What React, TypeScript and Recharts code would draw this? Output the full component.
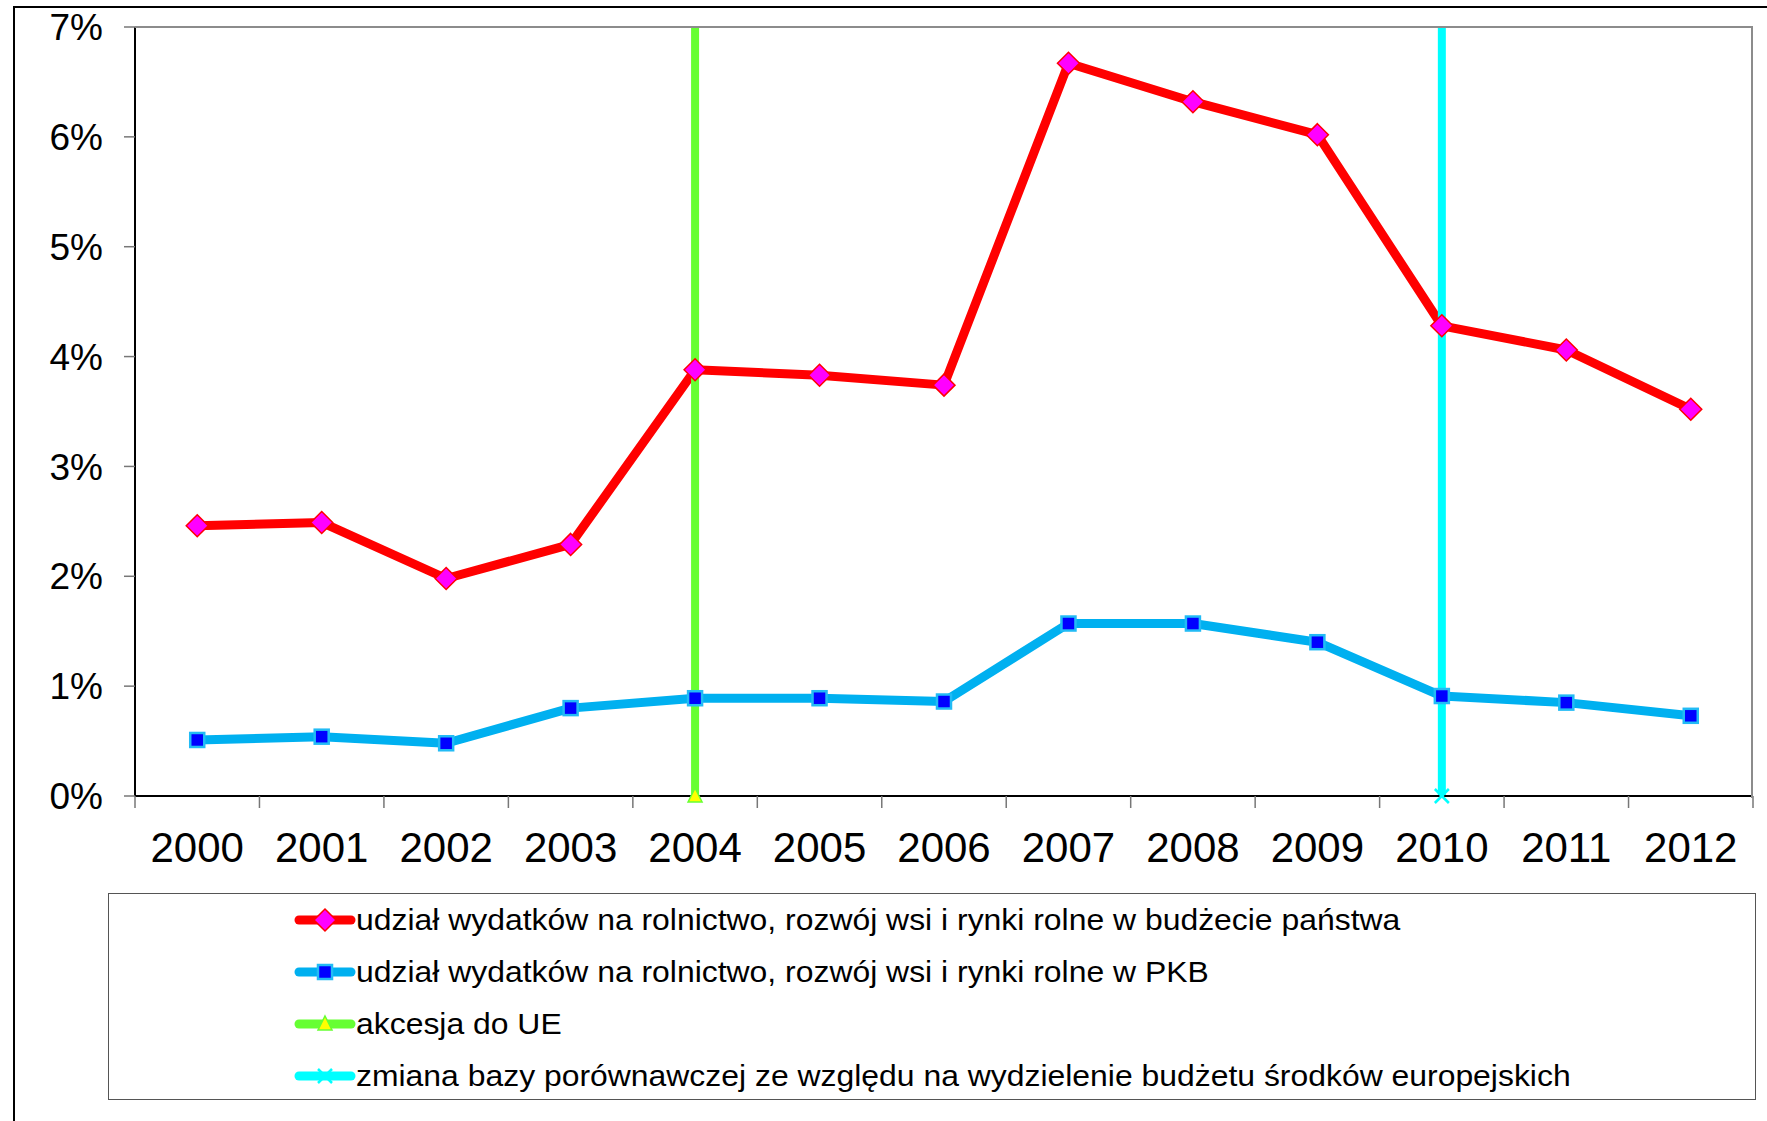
import React from "react";
import { LineChart, Line, XAxis, YAxis } from "recharts";

// years on the category axis
const years = ["2000", "2001", "2002", "2003", "2004", "2005", "2006", "2007", "2008", "2009", "2010", "2011", "2012"];
// share of agriculture spending in the state budget, %
const budgetShare = [2.46, 2.49, 1.98, 2.29, 3.88, 3.83, 3.74, 6.67, 6.32, 6.02, 4.28, 4.06, 3.52];
// share of agriculture spending in GDP, %
const gdpShare = [0.51, 0.54, 0.48, 0.8, 0.89, 0.89, 0.86, 1.57, 1.57, 1.4, 0.91, 0.85, 0.73];
const yTicks = [0, 1, 2, 3, 4, 5, 6, 7];
const accessionYear = "2004";
const baseChangeYear = "2010";
const markerSpan = [0, 7];

const legendLabels = [
  "udział wydatków na rolnictwo, rozwój wsi i rynki rolne w budżecie państwa",
  "udział wydatków na rolnictwo, rozwój wsi i rynki rolne w PKB",
  "akcesja do UE",
  "zmiana bazy porównawczej ze względu na wydzielenie budżetu środków europejskich",
];

const RED = "#FF0000";
const BLUE = "#00B0F0";
const GREEN = "#66FF33";
const CYAN = "#00FFFF";

const seriesData = years.map((year, i) => ({
  pos: i + 0.5,
  year,
  budget: budgetShare[i],
  gdp: gdpShare[i],
}));

const verticalMarker = (year: string) =>
  markerSpan.map((value) => ({ pos: years.indexOf(year) + 0.5, value }));

const accessionData = verticalMarker(accessionYear);
const baseChangeData = verticalMarker(baseChangeYear);
const boundaryTicks = [...years.map((_, i) => i), years.length];

function Diamond({ cx, cy, r = 11 }: any) {
  return (
    <polygon
      points={`${cx},${cy - r} ${cx + r},${cy} ${cx},${cy + r} ${cx - r},${cy}`}
      fill="#FF00FF"
      stroke={RED}
      strokeWidth={1.5}
    />
  );
}

function Square({ cx, cy, s = 7 }: any) {
  return (
    <rect x={cx - s} y={cy - s} width={s * 2} height={s * 2} fill="#0000FF" stroke="#22BBF5" strokeWidth={2.5} />
  );
}

function Triangle({ cx, cy }: any) {
  return (
    <polygon
      points={`${cx},${cy - 8} ${cx + 7},${cy + 6} ${cx - 7},${cy + 6}`}
      fill="#FFFF00"
      stroke={GREEN}
      strokeWidth={1.5}
    />
  );
}

function Cross({ cx, cy }: any) {
  return (
    <g stroke={CYAN} strokeWidth={2.5}>
      <line x1={cx - 7} y1={cy - 7} x2={cx + 7} y2={cy + 7} />
      <line x1={cx - 7} y1={cy + 7} x2={cx + 7} y2={cy - 7} />
    </g>
  );
}

const bottomOnly = (Marker: any) => (props: any) =>
  props.payload && props.payload.value === 0 ? (
    <Marker key={`m-${props.index}`} cx={props.cx} cy={props.cy} />
  ) : (
    <g key={`m-${props.index}`} />
  );

const legendMarkers = [
  { color: RED, Marker: Diamond },
  { color: BLUE, Marker: Square },
  { color: GREEN, Marker: Triangle },
  { color: CYAN, Marker: Cross },
];

export default function App() {
  return (
    <div
      style={{
        position: "absolute",
        left: 0,
        top: 0,
        width: 1767,
        height: 1121,
        overflow: "hidden",
        background: "#fff",
        fontFamily: "'Liberation Sans', Arial, sans-serif",
      }}
    >
      <div style={{ position: "absolute", left: 0, top: 0 }}>
        <LineChart
          width={1767}
          height={876}
          margin={{ top: 27, right: 14, left: 0, bottom: 0 }}
          style={{ fontFamily: "'Liberation Sans', Arial, sans-serif" }}
        >
          {/* category boundaries: tick marks only */}
          <XAxis
            xAxisId="bounds"
            type="number"
            dataKey="pos"
            domain={[0, years.length]}
            allowDataOverflow
            ticks={boundaryTicks}
            interval={0}
            tick={() => <g />}
            tickSize={12}
            tickLine={{ stroke: "#777", strokeWidth: 1.5 }}
            axisLine={{ stroke: "#000", strokeWidth: 2 }}
            height={1}
          />
          <XAxis
            xAxisId="years"
            type="number"
            dataKey="pos"
            domain={[0, years.length]}
            allowDataOverflow
            ticks={seriesData.map((d) => d.pos)}
            interval={0}
            tickFormatter={(v: number) => years[Math.floor(v)]}
            tickLine={false}
            axisLine={false}
            tickSize={12}
            tickMargin={23}
            tick={{ fontSize: 42, fill: "#000" }}
            height={79}
          />
          <YAxis
            type="number"
            domain={[0, 7]}
            ticks={yTicks}
            interval={0}
            tickFormatter={(v: number) => `${v}%`}
            width={135}
            tickSize={11}
            tickMargin={21}
            tick={{ fontSize: 37, fill: "#000" }}
            tickLine={{ stroke: "#777", strokeWidth: 1.5 }}
            axisLine={{ stroke: "#000", strokeWidth: 2 }}
          />
          <Line
            xAxisId="years"
            data={seriesData}
            dataKey="budget"
            type="linear"
            stroke={RED}
            strokeWidth={9}
            strokeLinejoin="round"
            dot={(p: any) => <Diamond key={`r-${p.index}`} cx={p.cx} cy={p.cy} />}
            activeDot={false}
            isAnimationActive={false}
          />
          <Line
            xAxisId="years"
            data={seriesData}
            dataKey="gdp"
            type="linear"
            stroke={BLUE}
            strokeWidth={9}
            strokeLinejoin="round"
            dot={(p: any) => <Square key={`b-${p.index}`} cx={p.cx} cy={p.cy} />}
            activeDot={false}
            isAnimationActive={false}
          />
          <Line
            xAxisId="bounds"
            data={accessionData}
            dataKey="value"
            type="linear"
            stroke={GREEN}
            strokeWidth={8}
            dot={bottomOnly(Triangle)}
            activeDot={false}
            isAnimationActive={false}
          />
          <Line
            xAxisId="bounds"
            data={baseChangeData}
            dataKey="value"
            type="linear"
            stroke={CYAN}
            strokeWidth={8}
            dot={bottomOnly(Cross)}
            activeDot={false}
            isAnimationActive={false}
          />
        </LineChart>
      </div>
      {/* plot frame: grey top and right edges */}
      <div
        style={{
          position: "absolute",
          left: 135,
          top: 25.5,
          width: 1616,
          height: 770,
          borderTop: "2.5px solid #8c8c8c",
          borderRight: "2.5px solid #8c8c8c",
          pointerEvents: "none",
        }}
      />
      {/* outer chart border */}
      <div
        style={{
          position: "absolute",
          left: 13,
          top: 6,
          width: 1800,
          height: 1200,
          borderLeft: "2px solid #000",
          borderTop: "2px solid #000",
          pointerEvents: "none",
        }}
      />
      <div
        style={{
          position: "absolute",
          left: 108,
          top: 893,
          width: 1646,
          height: 205,
          border: "1.5px solid #555",
          background: "#fff",
        }}
      >
        {legendLabels.map((label, i) => {
          const { color, Marker } = legendMarkers[i];
          return (
            <div
              key={label}
              style={{
                position: "absolute",
                left: 185,
                top: 26 + i * 52 - 16,
                height: 32,
                display: "flex",
                alignItems: "center",
                whiteSpace: "nowrap",
              }}
            >
              <svg width={62} height={32} style={{ flex: "none" }}>
                <line x1={5} y1={16} x2={57} y2={16} stroke={color} strokeWidth={9} strokeLinecap="round" />
                <Marker cx={31} cy={16} />
              </svg>
              <span
                style={{
                  fontSize: 29,
                  color: "#000",
                  display: "inline-block",
                  transform: "scaleX(1.1)",
                  transformOrigin: "left center",
                }}
              >
                {label}
              </span>
            </div>
          );
        })}
      </div>
    </div>
  );
}
